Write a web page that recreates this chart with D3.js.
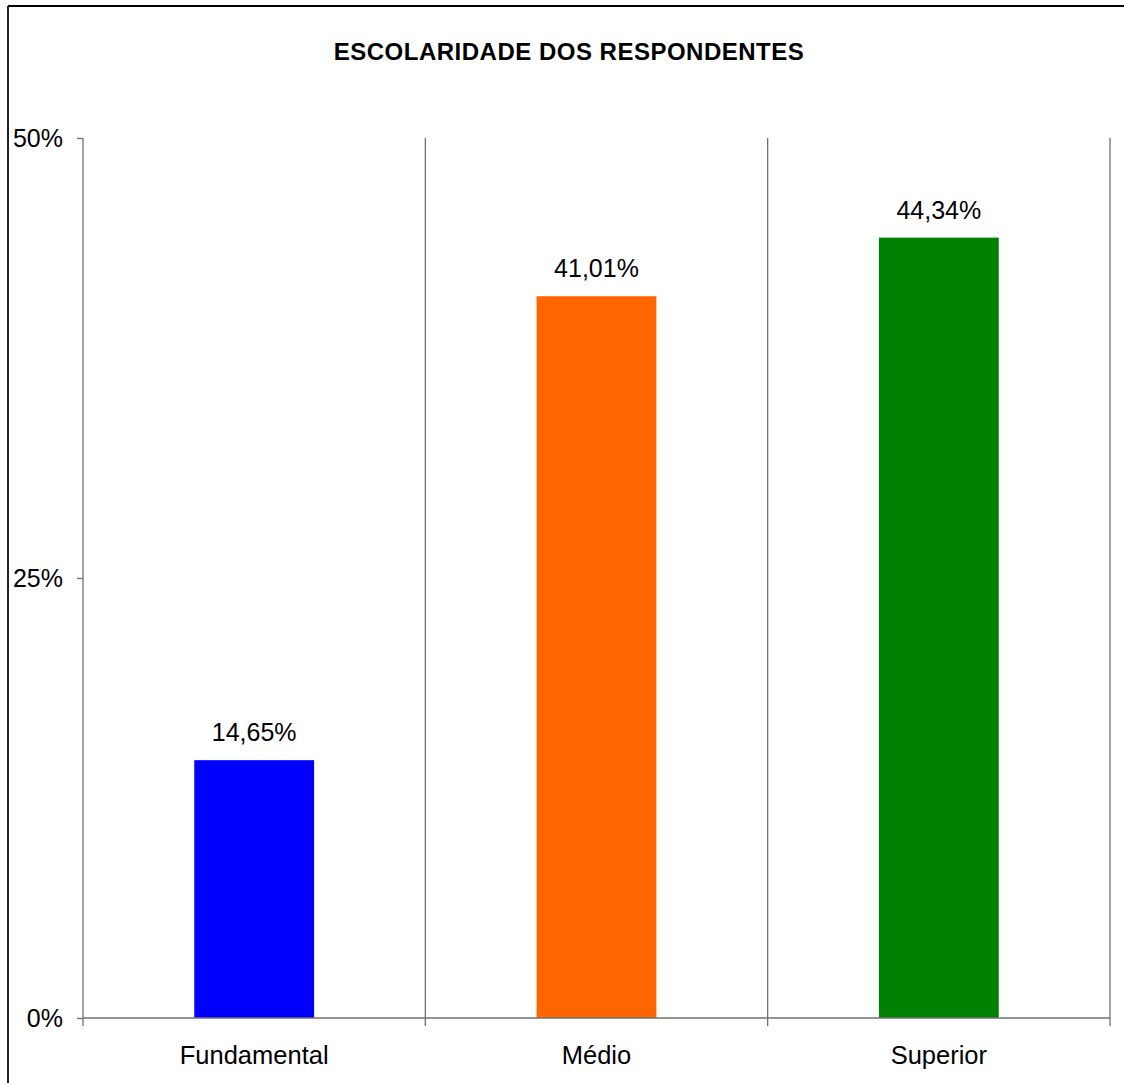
<!DOCTYPE html>
<html>
<head>
<meta charset="utf-8">
<script src="https://cdn.jsdelivr.net/npm/d3@7"></script>
<style>
  html, body { margin: 0; padding: 0; background: #fff; }
  svg { display: block; font-family: "Liberation Sans", Arial, sans-serif; }
</style>
</head>
<body>
<svg id="chart" width="1124" height="1083"></svg>
<script>
// Escolaridade dos respondentes
const categories = ["Fundamental", "Médio", "Superior"];
const values = [14.65, 41.01, 44.34];
const barColors = ["#0000FF", "#FF6600", "#008000"];
const yTicks = [0, 25, 50];
const title = "ESCOLARIDADE DOS RESPONDENTES";

const svg = d3.select("#chart");
const plot = { left: 83, right: 1110, top: 138, bottom: 1018 };

// outer frame (top and left edges visible)
svg.append("line").attr("x1", 8).attr("x2", 1124).attr("y1", 6).attr("y2", 6)
  .attr("stroke", "#000").attr("stroke-width", 2);
svg.append("line").attr("x1", 8).attr("x2", 8).attr("y1", 6).attr("y2", 1083)
  .attr("stroke", "#222").attr("stroke-width", 2);

// title
svg.append("text")
  .attr("x", 569).attr("y", 60)
  .attr("text-anchor", "middle")
  .attr("font-size", 24).attr("font-weight", "bold")
  .attr("letter-spacing", 0.5)
  .text(title);

const xCat = d3.scaleBand().domain(categories).range([plot.left, plot.right]).padding(0);
const xBar = d3.scaleBand().domain(categories).range([plot.left, plot.right])
  .paddingInner(0.65).paddingOuter(0.325);
const y = d3.scaleLinear().domain([0, 50]).range([plot.bottom, plot.top]);

// category separators (vertical lines, extending below the baseline)
const bounds = categories.map(c => xCat(c) + xCat.bandwidth());
svg.append("g").selectAll("line").data(bounds).join("line")
  .attr("x1", d => d).attr("x2", d => d)
  .attr("y1", plot.top).attr("y2", plot.bottom + 8)
  .attr("stroke", "#707070").attr("stroke-width", 1.3);

// y axis
const yAxis = d3.axisLeft(y).tickValues(yTicks).tickFormat(d => d + "%").tickSize(6).tickPadding(14);
const gy = svg.append("g").attr("transform", `translate(${plot.left},0)`).call(yAxis);
gy.select(".domain").remove();
gy.selectAll(".tick line").attr("stroke", "#707070").attr("stroke-width", 1.3);
gy.selectAll(".tick text").attr("font-size", 25).attr("fill", "#000")
  .attr("font-family", "'Liberation Sans', Arial, sans-serif");
svg.append("line").attr("x1", plot.left).attr("x2", plot.left)
  .attr("y1", plot.top).attr("y2", plot.bottom + 8)
  .attr("stroke", "#707070").attr("stroke-width", 1.3);

// bars
svg.append("g").selectAll("rect").data(values).join("rect")
  .attr("x", (d, i) => xBar(categories[i]))
  .attr("width", xBar.bandwidth())
  .attr("y", d => y(d))
  .attr("height", d => plot.bottom - y(d))
  .attr("fill", (d, i) => barColors[i]);

// x axis baseline
svg.append("line").attr("x1", plot.left).attr("x2", plot.right)
  .attr("y1", plot.bottom).attr("y2", plot.bottom)
  .attr("stroke", "#707070").attr("stroke-width", 1.3);

// category labels
svg.append("g").selectAll("text").data(categories).join("text")
  .attr("x", d => xCat(d) + xCat.bandwidth() / 2)
  .attr("y", 1064)
  .attr("text-anchor", "middle")
  .attr("font-size", 25.5)
  .text(d => d);

// value labels
const fmt = v => v.toFixed(2).replace(".", ",") + "%";
svg.append("g").selectAll("text").data(values).join("text")
  .attr("x", (d, i) => xBar(categories[i]) + xBar.bandwidth() / 2)
  .attr("y", d => y(d) - 19)
  .attr("text-anchor", "middle")
  .attr("font-size", 25)
  .text(d => fmt(d));
</script>
</body>
</html>
